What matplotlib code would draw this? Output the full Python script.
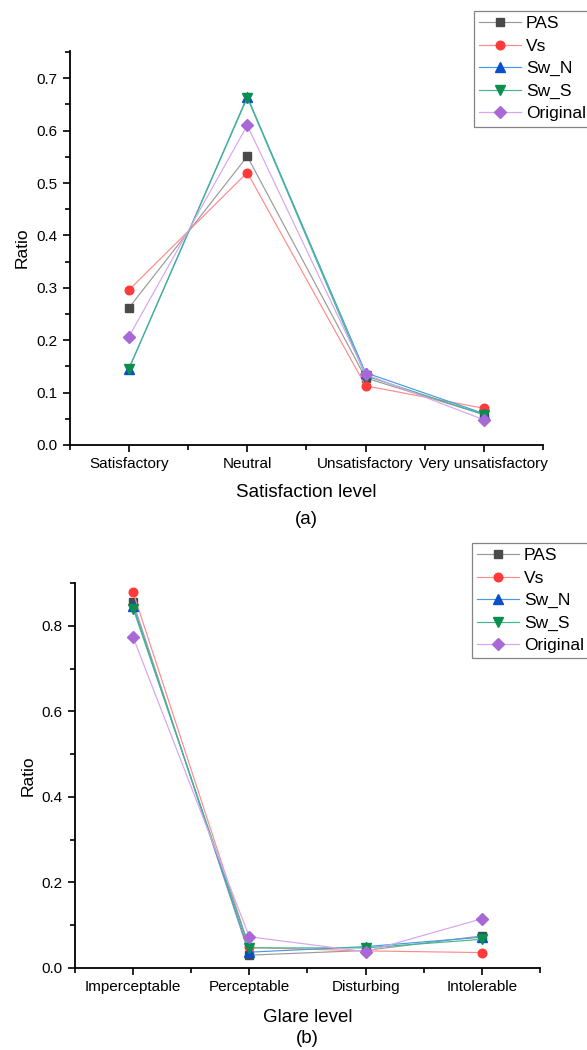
import numpy as np
import matplotlib
matplotlib.use("Agg")
import matplotlib.pyplot as plt
from matplotlib.ticker import MultipleLocator

plt.rcParams['font.family'] = ['Liberation Sans', 'DejaVu Sans']

# data
series = ["PAS", "Vs", "Sw_N", "Sw_S", "Original"]

sat_levels = ["Satisfactory", "Neutral", "Unsatisfactory", "Very unsatisfactory"]
sat_pas = [0.262, 0.551, 0.128, 0.058]
sat_vs = [0.296, 0.520, 0.113, 0.070]
sat_swn = [0.146, 0.665, 0.138, 0.060]
sat_sws = [0.146, 0.663, 0.132, 0.058]
sat_orig = [0.207, 0.610, 0.135, 0.048]

glare_levels = ["Imperceptable", "Perceptable", "Disturbing", "Intolerable"]
gl_pas = [0.855, 0.030, 0.041, 0.075]
gl_vs = [0.878, 0.048, 0.040, 0.036]
gl_swn = [0.846, 0.037, 0.050, 0.072]
gl_sws = [0.840, 0.047, 0.047, 0.067]
gl_orig = [0.773, 0.073, 0.038, 0.115]

marker_cols = ["#4a4a4a", "#ff3a3a", "#0a4fc9", "#0a8f4e", "#a868d6"]
line_cols = ["#9a9a9a", "#ff8a8a", "#4a96e8", "#40b888", "#d7a4f2"]
markers = ["s", "o", "^", "v", "D"]
msizes = [5.5, 6.2, 6.5, 6.5, 5.8]


def draw_panel(ax, cats, values, ylim, ystep, yminor, xlabel, tag, lab_y, tag_y):
    x = np.arange(len(cats))
    for name, vals, mc, lc, m, ms in zip(series, values, marker_cols, line_cols, markers, msizes):
        ax.plot(x, vals, color=lc, lw=0.85, marker=m, ms=ms,
                markerfacecolor=mc, markeredgecolor=mc, label=name)
    ax.set_xlim(-0.5, len(cats) - 0.5)
    ax.set_ylim(*ylim)
    ax.set_xticks(x)
    ax.set_xticklabels(cats)
    ax.xaxis.set_minor_locator(MultipleLocator(0.5))
    ax.yaxis.set_major_locator(MultipleLocator(ystep))
    ax.yaxis.set_minor_locator(MultipleLocator(yminor))
    ax.yaxis.set_major_formatter(plt.FormatStrFormatter('%.1f'))
    ax.tick_params(axis='both', which='major', length=5, width=1.2, labelsize=11,
                   direction='out', pad=4)
    ax.tick_params(axis='both', which='minor', length=3.5, width=1.2, direction='out')
    for s in ["top", "right"]:
        ax.spines[s].set_visible(False)
    for s in ["left", "bottom"]:
        ax.spines[s].set_linewidth(1.3)
    ax.set_ylabel("Ratio", fontsize=12.5, va='center')
    ax.yaxis.set_label_coords(-0.101, 0.5)
    ax.set_xlabel(xlabel, fontsize=13.5, va='center')
    ax.xaxis.set_label_coords(0.5, lab_y)
    ax.text(0.5, tag_y, tag, transform=ax.transAxes, ha='center', va='center', fontsize=13.5)


def add_legend(fig, ax, anchor):
    leg = fig.legend(*ax.get_legend_handles_labels(), loc='upper left',
                     bbox_to_anchor=anchor, fontsize=12.5, frameon=True,
                     fancybox=False, edgecolor='#666666', handlelength=2.4,
                     labelspacing=0.42, borderpad=0.3, handletextpad=0.3,
                     borderaxespad=0)
    leg.get_frame().set_linewidth(0.9)
    return leg


fig = plt.figure(figsize=(5.87, 10.5), dpi=100)

ax1 = fig.add_axes([0.119, 0.5762, 0.806, 0.3752])
draw_panel(ax1, sat_levels, [sat_pas, sat_vs, sat_swn, sat_sws, sat_orig],
           (0, 0.752), 0.1, 0.05, "Satisfaction level", "(a)", -0.121, -0.188)
add_legend(fig, ax1, (0.8075, 0.9895))

ax2 = fig.add_axes([0.1278, 0.0781, 0.792, 0.3667])
draw_panel(ax2, glare_levels, [gl_pas, gl_vs, gl_swn, gl_sws, gl_orig],
           (0, 0.9), 0.2, 0.1, "Glare level", "(b)", -0.128, -0.182)
add_legend(fig, ax2, (0.804, 0.483))

fig.savefig("out.png", dpi=100)
